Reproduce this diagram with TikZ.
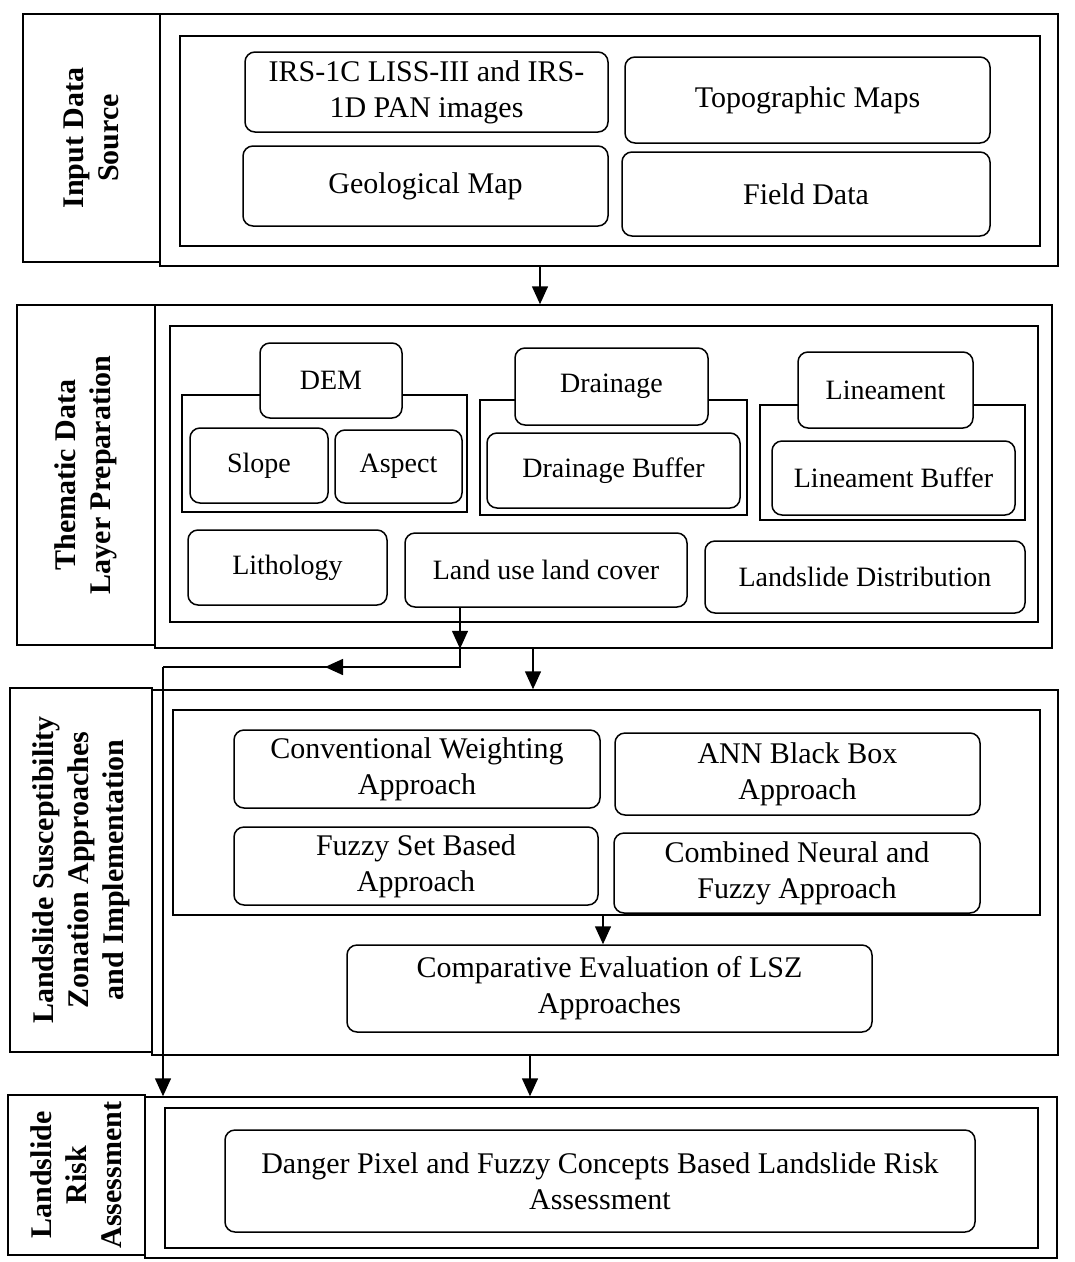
\documentclass[tikz,border=0pt]{standalone}
\usepackage{fontspec}
\setmainfont{Liberation Serif}
\usetikzlibrary{arrows.meta}

% box from its corner coordinates: style, name, x1, y1, x2, y2, text
\newcommand\mkbox[7]{%
  \pgfmathsetmacro\bxcx{(#3+#5)/2}%
  \pgfmathsetmacro\bxcy{(#4+#6)/2}%
  \pgfmathsetmacro\bxw{#5-#3}%
  \pgfmathsetmacro\bxh{#6-#4}%
  \node[#1, minimum width=\bxw pt, minimum height=\bxh pt] (#2) at (\bxcx,\bxcy) {#7};}
% stage label box with vertical text: name, x1, y1, x2, y2, text
\newcommand\mklabel[6]{%
  \pgfmathsetmacro\bxcx{(#2+#4)/2}%
  \pgfmathsetmacro\bxcy{(#3+#5)/2}%
  \pgfmathsetmacro\bxw{#4-#2}%
  \pgfmathsetmacro\bxh{#5-#3}%
  \node[stagelabel, rotate=90, minimum width=\bxh pt, minimum height=\bxw pt] (#1) at (\bxcx,\bxcy) {#6};}

\begin{document}
\begin{tikzpicture}[x=1pt, y=-1pt,
  frame/.style={draw, line width=1.5pt, rectangle, inner sep=0pt},
  stagelabel/.style={draw, line width=1.5pt, rectangle, inner sep=0pt, align=center,
    font=\fontsize{30}{35}\selectfont\bfseries},
  item/.style={draw, fill=white, line width=1.5pt, rounded corners=10pt, inner sep=0pt,
    align=center, font=\fontsize{30}{36}\selectfont},
  layer/.style={item, font=\fontsize{28}{33}\selectfont},
  line/.style={line width=1.5pt},
  arr/.style={line width=1.5pt, -{Triangle[length=18pt,width=16pt]}}]

\useasboundingbox (0,0) rectangle (1075,1262);

% ---- Input data source
\mklabel{lab1}{23}{14}{160}{262}{Input Data\\Source}
\mkbox{frame}{out1}{160}{14}{1058}{266}{}
\mkbox{frame}{in1}{180}{36}{1040}{246}{}
\mkbox{item}{irs}{245}{52}{608}{132}{IRS-1C LISS-III and IRS-\\1D PAN images}
\mkbox{item}{topo}{625}{57}{990}{143}{Topographic Maps}
\mkbox{item}{geo}{243}{146}{608}{226}{Geological Map}
\mkbox{item}{field}{622}{152}{990}{236}{Field Data}

% ---- Thematic data layer preparation
\mklabel{lab2}{17}{305}{155}{645}{Thematic Data\\Layer Preparation}
\mkbox{frame}{out2}{155}{305}{1052}{648}{}
\mkbox{frame}{in2}{170}{326}{1038}{622}{}
\mkbox{frame}{demg}{182}{395}{467}{512}{}
\mkbox{frame}{drag}{480}{400}{747}{515}{}
\mkbox{frame}{ling}{760}{405}{1025}{520}{}
\mkbox{layer}{dem}{260}{343}{402}{418}{DEM}
\mkbox{layer}{slope}{190}{428}{328}{503}{Slope}
\mkbox{layer}{aspect}{335}{430}{462}{503}{Aspect}
\mkbox{layer}{drain}{515}{348}{708}{425}{Drainage}
\mkbox{layer}{drbuf}{487}{433}{740}{508}{Drainage Buffer}
\mkbox{layer}{lin}{798}{352}{973}{428}{Lineament}
\mkbox{layer}{linbuf}{772}{441}{1015}{515}{Lineament Buffer}
\mkbox{layer}{litho}{188}{530}{387}{605}{Lithology}
\mkbox{layer}{landuse}{405}{533}{687}{607}{Land use land cover}
\mkbox{layer}{lsdist}{705}{541}{1025}{613}{Landslide Distribution}

% ---- Landslide susceptibility zonation
\mklabel{lab3}{10}{688}{152}{1052}{Landslide Susceptibility\\Zonation Approaches\\and Implementation}
\mkbox{frame}{out3}{152}{690}{1058}{1055}{}
\mkbox{frame}{in3}{173}{710}{1040}{915}{}
\mkbox{item}{conv}{234}{730}{600}{808}{Conventional Weighting\\Approach}
\mkbox{item}{ann}{615}{733}{980}{815}{ANN Black Box\\Approach}
\mkbox{item}{fuzzy}{234}{827}{598}{905}{Fuzzy Set Based\\Approach}
\mkbox{item}{comb}{614}{833}{980}{913}{Combined Neural and\\Fuzzy Approach}
\mkbox{item}{comp}{347}{945}{872}{1032}{Comparative Evaluation of LSZ\\Approaches}

% ---- Landslide risk assessment
\mklabel{lab4}{8}{1095}{145}{1255}{Landslide\\Risk\\Assessment}
\mkbox{frame}{out4}{145}{1097}{1057}{1258}{}
\mkbox{frame}{in4}{165}{1108}{1038}{1248}{}
\mkbox{item}{danger}{225}{1130}{975}{1232}{Danger Pixel and Fuzzy Concepts Based Landslide Risk\\Assessment}

% ---- connectors
\coordinate (a1) at (540,0);
\coordinate (a2) at (460,0);
\coordinate (a3) at (533,0);
\coordinate (a4) at (603,0);
\coordinate (a5) at (530,0);
\coordinate (bend1) at (460,667);
\coordinate (tipL) at (325,667);
\coordinate (bend2) at (163,667);

\draw[arr] (a1 |- out1.south) -- (a1 |- out2.north);
\draw[arr] (a2 |- landuse.south) -- (a2 |- out2.south);
\draw[line] (a2 |- out2.south) -- (bend1) -- (bend2);
\draw[arr] (bend1) -- (tipL);
\draw[arr] (bend2) -- (bend2 |- out4.north);
\draw[arr] (a3 |- out2.south) -- (a3 |- out3.north);
\draw[arr] (a4 |- in3.south) -- (a4 |- comp.north);
\draw[arr] (a5 |- out3.south) -- (a5 |- out4.north);
\end{tikzpicture}
\end{document}
